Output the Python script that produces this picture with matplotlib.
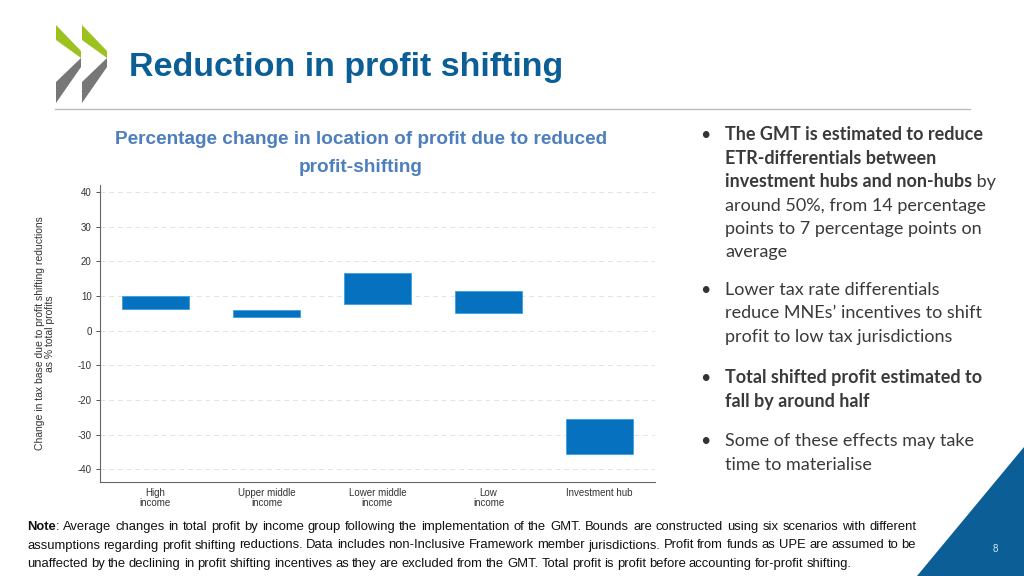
import numpy as np
import matplotlib
matplotlib.use('Agg')
import matplotlib.pyplot as plt
from matplotlib.patches import Polygon

# data
categories = ['High\nincome', 'Upper middle\nincome', 'Lower middle\nincome', 'Low\nincome', 'Investment hub']
lower = [6.1, 3.9, 7.6, 5.0, -35.7]
upper = [10.0, 5.8, 16.6, 11.4, -25.4]
yticks = [-40, -30, -20, -10, 0, 10, 20, 30, 40]

W, H = 1024, 576
fig = plt.figure(figsize=(10.24, 5.76), dpi=100)
renderer = fig.canvas.get_renderer()

SANS = ['Liberation Sans', 'DejaVu Sans']
BODY = ['Lato', 'DejaVu Sans']


def fx(x):
    return x / W


def fy(y):
    return 1 - y / H


def text_w(t):
    return t.get_window_extent(renderer).width


def segments(x, y, parts, size, family, color):
    # parts: list of (text, weight); drawn one after another on a line
    for s, wt in parts:
        t = fig.text(fx(x), fy(y), s, fontsize=size, family=family, fontweight=wt,
                     color=color, va='baseline', ha='left')
        x += text_w(t)


def make_words(words, size, family, color):
    # every word is a list of (text, weight) pieces
    out = []
    for parts in words:
        objs = [fig.text(0, 0, s, fontsize=size, family=family, fontweight=wt, color=color,
                         va='baseline', ha='left') for s, wt in parts]
        out.append((objs, [text_w(t) for t in objs]))
    return out


def place_line(x0, x1, y, wobjs, size, last=False):
    space = size * 100 / 72 * 0.24
    total = sum(sum(ws) for _, ws in wobjs)
    gap = space if last else (x1 - x0 - total) / (len(wobjs) - 1)
    x = x0
    for objs, ws in wobjs:
        for t, w in zip(objs, ws):
            t.set_position((fx(x), fy(y)))
            x += w
        x += gap


# logo chevrons
green = '#9dc21f'
grey = '#777777'
for dx in [0, 26]:
    fig.patches.append(Polygon([(fx(56 + dx), fy(25)), (fx(81 + dx), fy(51)), (fx(81 + dx), fy(58)),
                                (fx(56 + dx), fy(40))], closed=True, transform=fig.transFigure,
                               facecolor=green, edgecolor='none'))
    fig.patches.append(Polygon([(fx(81 + dx), fy(58)), (fx(81 + dx), fy(67)), (fx(56 + dx), fy(103)),
                                (fx(56 + dx), fy(82))], closed=True, transform=fig.transFigure,
                               facecolor=grey, edgecolor='none'))

fig.text(fx(129), fy(76), 'Reduction in profit shifting', fontsize=24.5, fontweight='bold',
         family=SANS, color='#0b5e96', va='baseline')
fig.add_artist(plt.Line2D([fx(55), fx(970)], [fy(109), fy(109)], color='#bdbdbd', lw=1,
                          transform=fig.transFigure))

# blue corner with page number
fig.patches.append(Polygon([(fx(917), fy(576)), (fx(1024), fy(447)), (fx(1024), fy(576))], closed=True,
                           transform=fig.transFigure, facecolor='#0b5e96', edgecolor='none'))
fig.text(fx(995), fy(549), '8', fontsize=7, color='#d8e8f5', ha='center', va='center', family=SANS)

# chart
ax = fig.add_axes([fx(100), fy(482), (655 - 100) / W, (482 - 185) / H])
x = np.arange(1, len(categories) + 1)
heights = np.array(upper) - np.array(lower)
ax.bar(x, heights, bottom=lower, width=0.6, color='#0672bf', edgecolor='#3aa0e6', linewidth=0.6, zorder=3)
ax.set_xlim(0.5, 5.5)
ax.set_ylim(-43.7, 42)
ax.set_yticks(yticks)
ax.set_yticklabels([str(v) for v in yticks])
ax.set_xticks(x)
ax.set_xticklabels(categories, linespacing=1.0)
ax.grid(axis='y', color='#e3e3e3', linestyle=(0, (5, 4)), linewidth=0.7, zorder=0)
for s in ['top', 'right']:
    ax.spines[s].set_visible(False)
for s in ['left', 'bottom']:
    ax.spines[s].set_color('#666666')
    ax.spines[s].set_linewidth(0.8)
ax.tick_params(axis='y', labelsize=7, colors='#333333', length=3, width=0.6, pad=3)
ax.tick_params(axis='x', labelsize=7, colors='#333333', length=0, pad=4)
for lab in ax.get_xticklabels() + ax.get_yticklabels():
    lab.set_family(SANS)
ax.set_ylabel('Change in tax base due to profit shifting reductions\nas % total profits', fontsize=7.5,
              color='#333333', family=SANS, linespacing=1.0, labelpad=16)

fig.text(fx(361), fy(144), 'Percentage change in location of profit due to reduced', fontsize=13.7,
         fontweight='bold', family=SANS, color='#4d7fbd', ha='center', va='baseline')
fig.text(fx(361), fy(172), 'profit-shifting', fontsize=13.7,
         fontweight='bold', family=SANS, color='#4d7fbd', ha='center', va='baseline')

# bullets on the right
bullets = [
    [[('The GMT is estimated to reduce', 'bold')],
     [('ETR-differentials between', 'bold')],
     [('investment hubs and non-hubs', 'bold'), (' by', 'normal')],
     [('around 50%, from 14 percentage', 'normal')],
     [('points to 7 percentage points on', 'normal')],
     [('average', 'normal')]],
    [[('Lower tax rate differentials', 'normal')],
     [('reduce MNEs\u2019 incentives to shift', 'normal')],
     [('profit to low tax jurisdictions', 'normal')]],
    [[('Total shifted profit estimated to', 'bold')],
     [('fall by around half', 'bold')]],
    [[('Some of these effects may take', 'normal')],
     [('time to materialise', 'normal')]],
]
starts = [140, 295, 383, 446]
for lines, y0 in zip(bullets, starts):
    fig.text(fx(700), fy(y0), '\u2022', fontsize=13, color='#333333', family=BODY, va='baseline')
    for i, parts in enumerate(lines):
        segments(725, y0 + i * 23.5, parts, 13, BODY, '#3a3a3a')

# note at the bottom, justified
note_lines = [
    'Note: Average changes in total profit by income group following the implementation of the GMT. Bounds are constructed using six scenarios with different',
    'assumptions regarding profit shifting reductions. Data includes non-Inclusive Framework member jurisdictions. Profit from funds as UPE are assumed to be',
    'unaffected by the declining in profit shifting incentives as they are excluded from the GMT. Total profit is profit before accounting for-profit shifting.',
]
note_words = []
for i, line in enumerate(note_lines):
    ws = [[(w, 'normal')] for w in line.split(' ')]
    if i == 0:
        ws[0] = [('Note', 'bold'), (':', 'normal')]
    note_words.append(ws)

# find a size at which the longest line fits with normal spacing
size = 10.0
probe = []
for ws in note_words:
    wo = make_words(ws, size, SANS, '#111111')
    nat = sum(sum(w) for _, w in wo) + (len(wo) - 1) * size * 100 / 72 * 0.24
    probe.append(nat)
    for objs, _ in wo:
        for t in objs:
            t.remove()
size = size * min(1.0, 885 / max(probe))

for i, ws in enumerate(note_words):
    wo = make_words(ws, size, SANS, '#111111')
    place_line(27, 916, 530 + i * 18.5, wo, size, last=(i == 2))

fig.savefig('out.png', dpi=100)
